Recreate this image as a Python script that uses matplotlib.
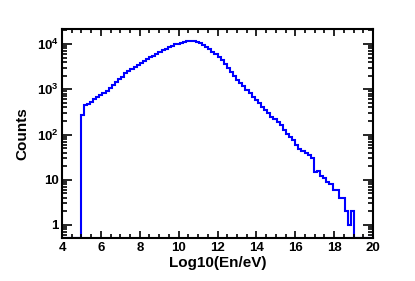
import numpy as np
import matplotlib
matplotlib.use('Agg')
import matplotlib.pyplot as plt
from matplotlib.ticker import FixedLocator, FixedFormatter, LogLocator, MultipleLocator

plt.rcParams['font.family'] = ['Liberation Sans', 'DejaVu Sans']
plt.rcParams['font.weight'] = 'bold'
plt.rcParams['mathtext.fontset'] = 'custom'
plt.rcParams['mathtext.bf'] = 'Liberation Sans:bold'
plt.rcParams['mathtext.rm'] = 'Liberation Sans:bold'
plt.rcParams['mathtext.default'] = 'bf'

# histogram: 100 bins from 4 to 20
xmin, xmax, nbins = 4, 20, 100
counts = [0, 0, 0, 0, 0, 0,
          270, 445, 480, 525, 600, 660, 740, 830, 930, 1070,
          1260, 1450, 1660, 1900, 2240, 2510, 2820, 3160, 3470, 3800,
          4270, 4680, 5130, 5500, 6030, 6760, 7400, 7940, 8510, 9120,
          9770, 10200, 10700, 11200, 11600, 11750, 11600, 11200, 10500, 9550,
          8500, 7600, 6760, 5900, 5250, 4370, 3630, 2950, 2400, 1950,
          1620, 1380, 1170, 980, 810, 680, 575, 490, 415, 345,
          295, 250, 215, 185, 165, 125, 105, 89, 75, 60,
          47, 43, 39, 36, 30, 15, 16, 12, 11, 9,
          8, 6, 6, 4, 4, 2, 1, 2,
          0, 0, 0, 0, 0, 0]

y_ticks = [1, 10, 100, 1000, 10000]
y_labels = ['1', '10', r'$10^{2}$', r'$10^{3}$', r'$10^{4}$']

ymin, ymax = 0.508, 21500

edges = np.linspace(xmin, xmax, nbins + 1)
vals = np.array(counts, dtype=float)
vals = np.where(vals > 0, vals, ymin)  # empty bins sit on the bottom axis, like ROOT

fig = plt.figure(figsize=(4.15, 2.81), dpi=100)
ax = fig.add_axes([0.1494, 0.152, 0.7494, 0.7448])
ax.stairs(vals, edges, baseline=None, color='#0000ff', lw=1.5)

ax.set_yscale('log')
ax.set_xlim(xmin, xmax)
ax.set_ylim(ymin, ymax)

ax.xaxis.set_major_locator(MultipleLocator(2))
ax.xaxis.set_minor_locator(MultipleLocator(0.5))
ax.yaxis.set_major_locator(FixedLocator(y_ticks))
ax.yaxis.set_major_formatter(FixedFormatter(y_labels))
ax.yaxis.set_minor_locator(LogLocator(base=10, subs=np.arange(2, 10)))
ax.yaxis.set_minor_formatter(FixedFormatter([]))

ax.tick_params(which='both', direction='in', top=True, right=True, width=1.2,
               labelsize=9.5)
ax.tick_params(axis='x', which='major', length=5, pad=3)
ax.tick_params(axis='x', which='minor', length=3)
ax.tick_params(axis='y', which='major', length=7, pad=2.5)
ax.tick_params(axis='y', which='minor', length=3.5)
for s in ax.spines.values():
    s.set_linewidth(1.5)

ax.set_xlabel('Log10(En/eV)', fontsize=11, fontweight='bold', labelpad=1)
ax.set_ylabel('Counts', fontsize=11, fontweight='bold', labelpad=5)

fig.savefig('out.png', dpi=100)
